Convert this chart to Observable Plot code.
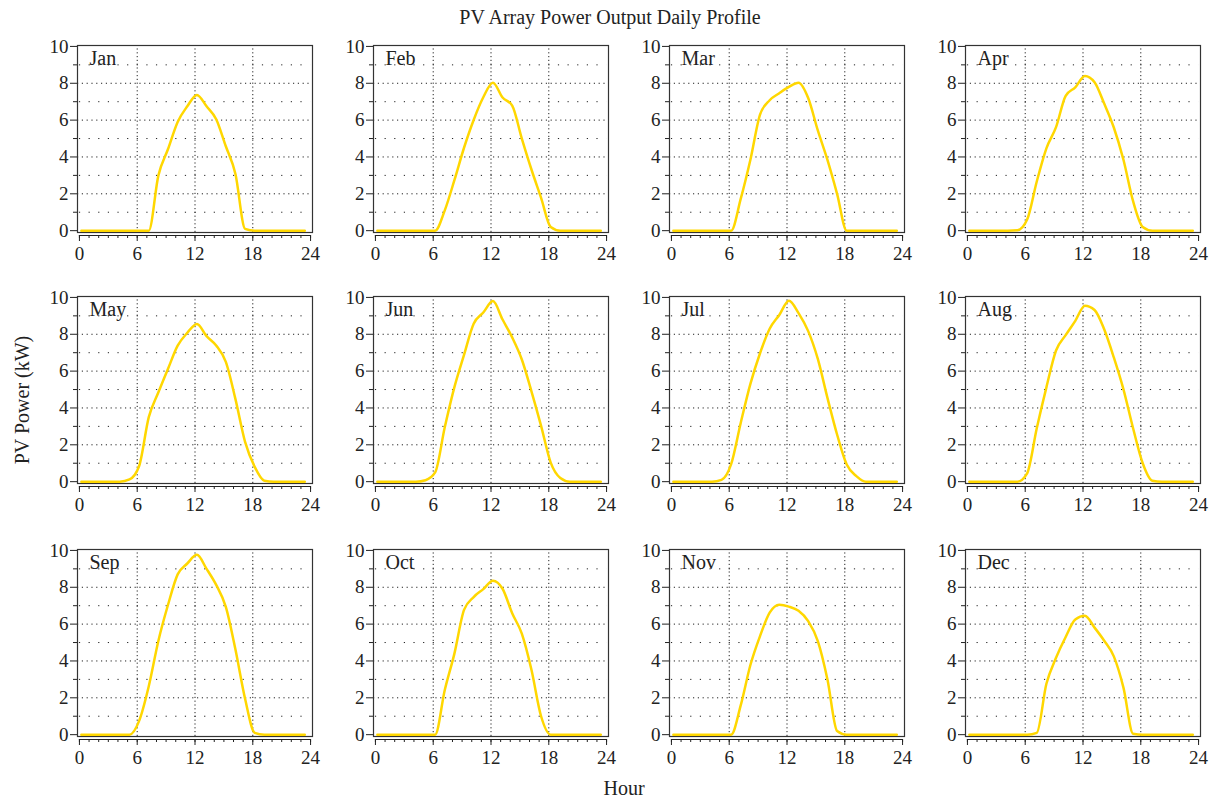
<!DOCTYPE html>
<html><head><meta charset="utf-8">
<script src="https://cdn.jsdelivr.net/npm/d3@7"></script>
<script src="https://cdn.jsdelivr.net/npm/@observablehq/plot@0.6"></script>
<style>
body{margin:0;background:#fff;}
#root{position:relative;width:1220px;height:801px;font-family:"Liberation Serif","DejaVu Serif",serif;color:#222;overflow:hidden;}
.t{position:absolute;white-space:nowrap;line-height:20px;font-size:20px;}
#root svg{position:absolute;overflow:visible;}
</style></head><body><div id="root">
<div class="t" style="left:610px;top:7px;transform:translateX(-50%);">PV Array Power Output Daily Profile</div>
<div class="t" style="left:624px;top:778px;transform:translateX(-50%);">Hour</div>
<div class="t" style="left:22px;top:400px;transform:translate(-50%,-50%) rotate(-90deg);">PV Power (kW)</div>
</div>
<script>
const MONTHS = ["Jan","Feb","Mar","Apr","May","Jun","Jul","Aug","Sep","Oct","Nov","Dec"];
const HOURS = [0.2,1.2,2.2,3.2,4.2,5.2,6.2,7.2,8.2,9.2,10.2,11.2,12.2,13.2,14.2,15.2,16.2,17.2,18.2,19.2,20.2,21.2,22.2,23.2,23.4];
const JAN = [0,0,0,0,0,0,0,0, 3.0,4.43,5.9,6.75,7.37,6.75,6.05,4.58,3.08,0.1, 0,0,0,0,0,0,0];
const FEB = [0,0,0,0,0,0,0, 1.1,2.74,4.5,6.01,7.24,8.03,7.23,6.79,5.0,3.32,1.78,0.2, 0,0,0,0,0,0];
const MAR = [0,0,0,0,0,0, 0,1.74,3.85,6.3,7.08,7.46,7.8,8.03,7.2,5.44,3.84,2.0, 0,0,0,0,0,0,0];
const APR = [0,0,0,0,0, 0.02,0.6,2.67,4.47,5.62,7.32,7.78,8.4,8.06,6.9,5.6,3.85,1.6,0.2, 0,0,0,0,0,0];
const MAY = [0,0,0,0,0, 0.12,0.85,3.5,4.85,6.13,7.38,8.08,8.56,7.9,7.39,6.5,4.48,2.16,0.8,0.05, 0,0,0,0,0];
const JUN = [0,0,0,0,0, 0.08,0.5,2.95,5.13,6.88,8.57,9.18,9.8,8.8,7.83,6.63,4.9,3.03,1.03,0.2, 0,0,0,0,0];
const JUL = [0,0,0,0,0, 0.1,0.95,3.2,5.31,6.97,8.3,9.05,9.82,9.15,8.17,6.66,4.55,2.56,0.93,0.3, 0,0,0,0,0];
const AUG = [0,0,0,0,0,0, 0.45,2.9,5.12,7.12,7.95,8.73,9.55,9.32,8.27,6.74,5.01,2.9,1.0,0.05, 0,0,0,0,0];
const SEP = [0,0,0,0,0,0, 0.75,2.63,5.1,7.05,8.7,9.29,9.76,9.0,8.13,6.94,4.62,1.95,0.1, 0,0,0,0,0,0];
const OCT = [0,0,0,0,0,0,0, 2.42,4.4,6.77,7.47,7.9,8.36,7.92,6.59,5.48,3.52,1.0, 0,0,0,0,0,0,0];
const NOV = [0,0,0,0,0,0,0, 1.6,3.78,5.35,6.62,7.05,6.95,6.72,6.16,5.08,3.0,0.2, 0,0,0,0,0,0,0];
const DEC = [0,0,0,0,0,0,0, 0.1,2.76,4.17,5.3,6.25,6.45,5.81,5.1,4.25,2.55,0.05, 0,0,0,0,0,0,0];
const SERIES = [JAN,FEB,MAR,APR,MAY,JUN,JUL,AUG,SEP,OCT,NOV,DEC];
const X_TICKS = [0,6,12,18,24];
const Y_TICKS = [0,2,4,6,8,10];
const Y_MINOR = [1,3,5,7,9];
const Y_MAJOR_GRID = [2,4,6,8];
const X_MAJOR_GRID = [6,12,18];

const root = document.getElementById("root");
const frameLeft = [77, 373, 669, 965];
const frameTop = [45, 296, 549];
const FW = 235, FH = 187;
const ML = 50, MR = 14, MT = 4, MB = 38;
const FONT = '"Liberation Serif","DejaVu Serif",serif';
const INK = "#222";

MONTHS.forEach((m, i) => {
  const r = Math.floor(i / 4), c = i % 4;
  const data = HOURS.map((h, k) => ({hour: h, power: SERIES[i][k]}));
  const chart = Plot.plot({
    width: ML + FW + MR, height: MT + FH + MB,
    marginLeft: ML, marginRight: MR, marginTop: MT, marginBottom: MB,
    x: {domain: [-0.2, 24.2]},
    y: {domain: [-0.1, 10.05]},
    style: {fontFamily: FONT, fontSize: "19px", color: INK, background: "transparent", overflow: "visible"},
    marks: [
      Plot.ruleY(Y_MINOR, {x1: 0, x2: 24, stroke: INK, strokeWidth: 1, strokeDasharray: "1.2,8.43"}),
      Plot.ruleY(Y_MAJOR_GRID, {x1: -0.2, x2: 24.2, stroke: INK, strokeWidth: 1, strokeDasharray: "1.2,3.6"}),
      Plot.ruleX(X_MAJOR_GRID, {y1: -0.1, y2: 10.05, stroke: INK, strokeWidth: 1, strokeDasharray: "1.2,2.6"}),
      Plot.frame({stroke: "#333", strokeWidth: 1.2}),
      Plot.axisY({ticks: Y_TICKS, tickSize: 7, tickPadding: 2, label: null, fontSize: 19, stroke: INK}),
      Plot.axisY({ticks: Y_MINOR, tickSize: 4, tickFormat: () => "", label: null, stroke: INK}),
      Plot.ruleY([-0.1], {x1: 0, x2: 24, dy: 3, stroke: INK}),
      Plot.axisX({ticks: X_TICKS, tickSize: 6, tickPadding: 5, dy: 3, label: null, fontSize: 19, stroke: INK}),
      Plot.axisX({ticks: d3.range(0, 25), tickSize: 3, tickFormat: () => "", dy: 3, label: null, stroke: INK}),
      Plot.line(data, {x: "hour", y: "power", stroke: "#ffd700", strokeWidth: 2.5, curve: "monotone-x"}),
      Plot.text([m], {text: d => d, frameAnchor: "top-left", textAnchor: "start", lineAnchor: "top", dx: 12, dy: 5, fontSize: 20, fill: INK})
    ]
  });
  chart.style.left = (frameLeft[c] - ML) + "px";
  chart.style.top = (frameTop[r] - MT) + "px";
  root.append(chart);
});
</script>
</body></html>
